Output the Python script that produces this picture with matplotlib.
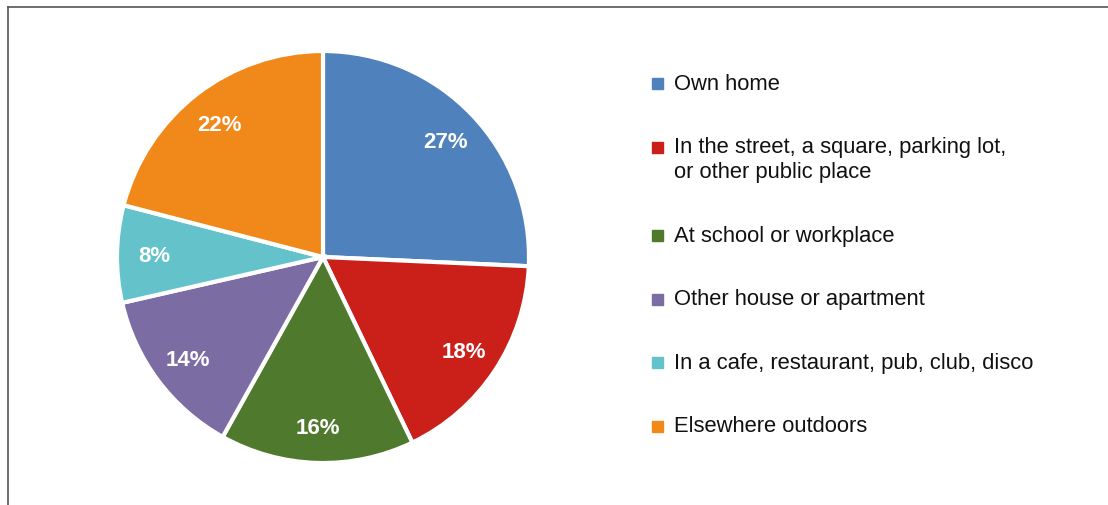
import matplotlib.pyplot as plt
import matplotlib.patches as mpatches
import numpy as np

plt.rcParams['font.family'] = ['Liberation Sans', 'DejaVu Sans']

# data
places = [
    "Own home",
    "In the street, a square, parking lot,\nor other public place",
    "At school or workplace",
    "Other house or apartment",
    "In a cafe, restaurant, pub, club, disco",
    "Elsewhere outdoors",
]
shares = [27, 18, 16, 14, 8, 22]
colors = ["#4F81BD", "#CB1F1A", "#4F7A2E", "#7B6CA3", "#64C2CB", "#F0881A"]

W, H = 1108, 505
fig = plt.figure(figsize=(W / 100, H / 100), dpi=100)

# border (left + top only, picture is cropped)
fig.add_artist(plt.Line2D([8 / W, 8 / W], [0, 1 - 7 / H], transform=fig.transFigure,
                          color="#555555", lw=1.2))
fig.add_artist(plt.Line2D([8 / W, 1], [1 - 7 / H, 1 - 7 / H], transform=fig.transFigure,
                          color="#555555", lw=1.2))

cx, cy, r = 323, 257, 206
ax = fig.add_axes([(cx - r) / W, (H - cy - r) / H, 2 * r / W, 2 * r / H])
wedges, _ = ax.pie(shares, colors=colors, startangle=90, counterclock=False,
                   wedgeprops=dict(edgecolor="white", linewidth=3))
ax.set_xlim(-1.0, 1.0)
ax.set_ylim(-1.0, 1.0)
ax.set_aspect("equal")

for w, v in zip(wedges, shares):
    ang = np.deg2rad((w.theta1 + w.theta2) / 2)
    ax.text(0.82 * np.cos(ang), 0.82 * np.sin(ang), f"{v}%", color="white",
            fontsize=16, fontweight="bold", ha="center", va="center_baseline")

# legend drawn by hand so the marker sits on the first line
y = 83.5
for lab, c in zip(places, colors):
    fig.add_artist(mpatches.Rectangle((652 / W, 1 - (y + 5.5) / H), 11 / W, 11 / H,
                                      transform=fig.transFigure, color=c))
    fig.text(674 / W, 1 - (y - 10) / H, lab, fontsize=15.8, va="top", ha="left",
             color="#111111", linespacing=1.25)
    y += 63.6 + 25 * lab.count("\n")

fig.savefig("out.png", dpi=100)
